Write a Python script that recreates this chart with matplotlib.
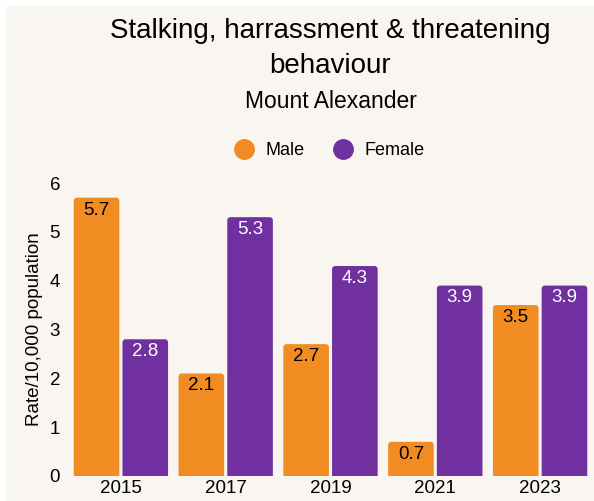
import numpy as np
import matplotlib.pyplot as plt
from matplotlib.patches import FancyBboxPatch, Rectangle

plt.rcParams['font.family'] = ['Liberation Sans', 'DejaVu Sans']

years = ['2015', '2017', '2019', '2021', '2023']
male = [5.7, 2.1, 2.7, 0.7, 3.5]
female = [2.8, 5.3, 4.3, 3.9, 3.9]

orange = '#f08c21'
purple = '#7030a0'
bg = '#f9f6f1'

fig = plt.figure(figsize=(5.94, 5.01), dpi=100, facecolor='white')
# beige panel with a thin white margin on top and left
fig.patches.append(Rectangle((6 / 594, 0), 1, 1 - 6 / 501, transform=fig.transFigure,
                             facecolor=bg, edgecolor='none', zorder=-10))

ax = fig.add_axes([68.5 / 594, 25 / 501, 524 / 594, 293 / 501])
ax.set_facecolor('none')

x = np.arange(len(years))
w = 0.435
gap = 0.015
bm = ax.bar(x - w / 2 - gap, male, w, color=orange, label='Male')
bf = ax.bar(x + w / 2 + gap, female, w, color=purple, label='Female')

# swap plain bars for rounded ones
r = 0.03
for bars in (bm, bf):
    for p in bars:
        p.set_visible(False)
        fb = FancyBboxPatch((p.get_x(), -0.2), p.get_width(), p.get_height() + 0.2,
                            boxstyle=f'round,pad=0,rounding_size={r}',
                            mutation_aspect=2.1, facecolor=p.get_facecolor(),
                            edgecolor='none', clip_on=True)
        ax.add_patch(fb)

for xi, v in zip(x, male):
    ax.text(xi - w / 2 - gap, v - 0.08, f'{v}', ha='center', va='top', fontsize=13.5, color='black')
for xi, v in zip(x, female):
    ax.text(xi + w / 2 + gap, v - 0.08, f'{v}', ha='center', va='top', fontsize=13.5, color='white')

ax.set_xlim(-0.5, 4.5)
ax.set_ylim(0, 6)
ax.set_xticks(x)
ax.set_xticklabels(years)
ax.set_yticks(range(0, 7))
ax.tick_params(axis='both', length=0, labelsize=13.5)
ax.tick_params(axis='x', pad=3)
ax.tick_params(axis='y', pad=6)
for s in ax.spines.values():
    s.set_visible(False)
ax.set_ylabel('Rate/10,000 population', fontsize=13.5, labelpad=5)

ax.legend(handles=[
    plt.Line2D([], [], marker='o', ls='none', ms=14, color=orange, label='Male'),
    plt.Line2D([], [], marker='o', ls='none', ms=14, color=purple, label='Female')],
    loc='center', bbox_to_anchor=(0.49, 1.11), ncol=2, frameon=False,
    fontsize=13, handletextpad=0.2, columnspacing=1.1)

cx = (68.5 + 524 / 2) / 594
fig.text(cx, 1 - 31 / 501, 'Stalking, harrassment & threatening', ha='center', va='center', fontsize=20)
fig.text(cx, 1 - 66 / 501, 'behaviour', ha='center', va='center', fontsize=20)
fig.text(cx, 1 - 101 / 501, 'Mount Alexander', ha='center', va='center', fontsize=16.5)

fig.savefig('out.png', dpi=100, facecolor=fig.get_facecolor())
